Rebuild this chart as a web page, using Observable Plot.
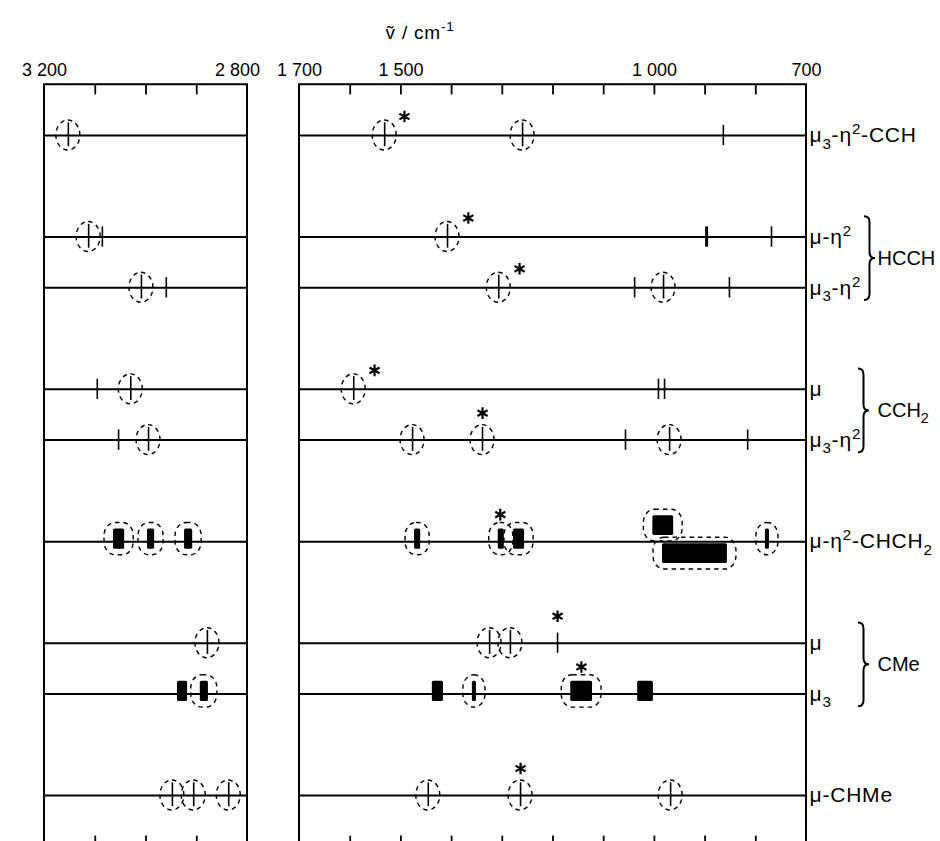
<!DOCTYPE html>
<html><head><meta charset="utf-8">
<script src="https://cdn.jsdelivr.net/npm/d3@7"></script>
<script src="https://cdn.jsdelivr.net/npm/@observablehq/plot@0.6"></script>
<style>body{margin:0;background:#fff} svg{display:block}</style>
</head><body><div id="chart"></div>
<script>
// ---- data (wavenumbers in cm^-1, rows as slot indices) ----
const panels = [{from: 3200, to: 2800}, {from: 1700, to: 700}];
const axisTicks = [3100, 3000, 2900, 1600, 1500, 1400, 1300, 1200, 1100, 1000, 900, 800];
const tickLabels = [3200, 1700, 1500, 1000, 700];
const shiftedLabels = [2800];
const title = "ṽ / cm⁻¹";

const rows = [
  {k: 0, label: "μ₃-η²-CCH"},
  {k: 2, label: "μ-η²"},
  {k: 3, label: "μ₃-η²"},
  {k: 5, label: "μ"},
  {k: 6, label: "μ₃-η²"},
  {k: 8, label: "μ-η²-CHCH₂"},
  {k: 10, label: "μ"},
  {k: 11, label: "μ₃"},
  {k: 13, label: "μ-CHMe"}
];
const groups = [
  {name: "HCCH", k1: 2, k2: 3},
  {name: "CCH₂", k1: 5, k2: 6},
  {name: "CMe", k1: 10, k2: 11}
];
const plainTicks = [
  {k: 0, nu: 864},
  {k: 2, nu: 3086}, {k: 2, nu: 769},
  {k: 3, nu: 2960}, {k: 3, nu: 1039}, {k: 3, nu: 852},
  {k: 5, nu: 3096}, {k: 5, nu: 992}, {k: 5, nu: 980},
  {k: 6, nu: 3054}, {k: 6, nu: 1057}, {k: 6, nu: 816},
  {k: 10, nu: 1191}
];
const strongTicks = [{k: 2, nu: 897}];
const circledTicks = [
  {k: 0, nu: 3153}, {k: 0, nu: 1532}, {k: 0, nu: 1260},
  {k: 2, nu: 3113}, {k: 2, nu: 1408},
  {k: 3, nu: 3009}, {k: 3, nu: 1307}, {k: 3, nu: 982},
  {k: 5, nu: 3030}, {k: 5, nu: 1593},
  {k: 6, nu: 2995}, {k: 6, nu: 1477}, {k: 6, nu: 1339}, {k: 6, nu: 970},
  {k: 10, nu: 2879}, {k: 10, nu: 1325}, {k: 10, nu: 1284},
  {k: 13, nu: 2948}, {k: 13, nu: 2906}, {k: 13, nu: 2837}, {k: 13, nu: 1446}, {k: 13, nu: 1264}, {k: 13, nu: 968}
];
const bands = [
  {k: 8, nu1: 3064, nu2: 3042, pos: "on", circled: true},
  {k: 8, nu1: 2997, nu2: 2983, pos: "on", circled: true},
  {k: 8, nu1: 2924, nu2: 2908, pos: "on", circled: true},
  {k: 8, nu1: 1473, nu2: 1461, pos: "on", circled: true},
  {k: 8, nu1: 1308, nu2: 1296, pos: "on", circled: true},
  {k: 8, nu1: 1278, nu2: 1256, pos: "on", circled: true},
  {k: 8, nu1: 1003, nu2: 962, pos: "above", circled: true},
  {k: 8, nu1: 984, nu2: 856, pos: "below", circled: true},
  {k: 8, nu1: 781, nu2: 773, pos: "on", circled: true},
  {k: 11, nu1: 2938, nu2: 2918, pos: "on", circled: false},
  {k: 11, nu1: 2893, nu2: 2877, pos: "on", circled: true},
  {k: 11, nu1: 1438, nu2: 1416, pos: "on", circled: false},
  {k: 11, nu1: 1359, nu2: 1351, pos: "on", circled: true},
  {k: 11, nu1: 1165, nu2: 1122, pos: "on", circled: true},
  {k: 11, nu1: 1033, nu2: 1002, pos: "on", circled: false}
];
const starsBeside = [{k: 0, nu: 1493}, {k: 2, nu: 1367}, {k: 3, nu: 1266}, {k: 5, nu: 1552}];
const starsAbove = [{k: 6, nu: 1339}, {k: 8, nu: 1304}, {k: 10, nu: 1191}, {k: 11, nu: 1144}, {k: 13, nu: 1264}];

// ---- derived ----
const yTop = rows[0].k - 1;
const yBot = rows[rows.length - 1].k + 1;
const rowLines = rows.flatMap(r => panels.map(p => ({k: r.k, from: p.from, to: p.to})));
const fmt = n => n >= 1000 ? `${Math.floor(n / 1000)} ${String(n % 1000).padStart(3, "0")}` : String(n);
const bandY1 = d => d.pos === "above" ? d.k - 0.51 : d.pos === "below" ? d.k + 0.04 : d.k - 0.25;
const bandY2 = d => d.pos === "above" ? d.k - 0.12 : d.pos === "below" ? d.k + 0.43 : d.k + 0.15;
const dashed = {fill: "none", stroke: "black", strokeWidth: 1.4, strokeDasharray: "4.5,4"};
const font = "Liberation Sans, Arial, sans-serif";
const braceTop = d => d.k1 - 0.4, braceBot = d => d.k2 + 0.25;

function braces(index, scales) {
  const ns = "http://www.w3.org/2000/svg";
  const g = document.createElementNS(ns, "g");
  for (const d of groups) {
    const x0 = scales.x(700) + (d.name === "HCCH" ? 58 : 52), w = 11, c = 6;
    const y1 = scales.y(braceTop(d)), y2 = scales.y(braceBot(d)), m = (y1 + y2) / 2, xm = x0 + w / 2;
    const p = document.createElementNS(ns, "path");
    p.setAttribute("d", `M${x0},${y1}Q${xm},${y1} ${xm},${y1 + c}L${xm},${m - c}Q${xm},${m} ${x0 + w},${m}Q${xm},${m} ${xm},${m + c}L${xm},${y2 - c}Q${xm},${y2} ${x0},${y2}`);
    p.setAttribute("fill", "none");
    p.setAttribute("stroke", "black");
    p.setAttribute("stroke-width", "2");
    g.appendChild(p);
  }
  return g;
}

const chart = Plot.plot({
  width: 940, height: 841, margin: 0,
  style: {fontFamily: font, background: "white", color: "black"},
  x: {type: "linear", domain: [3200, 2800, 1700, 700], range: [44, 247, 299, 806], axis: null},
  y: {type: "linear", domain: [0, 13], range: [135, 795], axis: null},
  marks: [
    Plot.rect(panels, {x1: "from", x2: "to", y1: yTop, y2: yBot, fill: "none", stroke: "black", strokeWidth: 2}),
    Plot.ruleX(axisTicks, {x: d => d, y1: yTop, y2: yTop + 0.2, strokeWidth: 1.8}),
    Plot.ruleX(axisTicks, {x: d => d, y1: yBot - 0.2, y2: yBot, strokeWidth: 1.8}),
    Plot.text(tickLabels, {x: d => d, y: yTop, dy: -9, text: d => fmt(d), lineAnchor: "bottom", fontSize: 18}),
    Plot.text(shiftedLabels, {x: d => d, y: yTop, dy: -9, dx: -10, text: d => fmt(d), lineAnchor: "bottom", fontSize: 18}),
    Plot.text([title], {frameAnchor: "top-left", dx: 385, dy: 38, text: d => d, textAnchor: "start", lineAnchor: "bottom", fontSize: 19, className: "spaced"}),
    Plot.ruleY(rowLines, {y: "k", x1: "from", x2: "to", strokeWidth: 2}),
    Plot.ruleX(plainTicks, {x: "nu", y1: d => d.k - 0.2, y2: d => d.k + 0.2, strokeWidth: 1.6}),
    Plot.ruleX(strongTicks, {x: "nu", y1: d => d.k - 0.2, y2: d => d.k + 0.2, strokeWidth: 3}),
    Plot.ruleX(circledTicks, {x: "nu", y1: d => d.k - 0.25, y2: d => d.k + 0.22, strokeWidth: 1.6}),
    Plot.rect(circledTicks, {x1: "nu", x2: "nu", y1: "k", y2: "k", insetLeft: -12, insetRight: -12, insetTop: -15, insetBottom: -15, rx: 12, ry: 15, ...dashed}),
    Plot.rect(bands, {x1: "nu1", x2: "nu2", y1: bandY1, y2: bandY2, fill: "black", rx: 1.5}),
    Plot.rect(bands.filter(d => d.circled), {x1: "nu1", x2: "nu2", y1: bandY1, y2: bandY2, insetLeft: -9, insetRight: -9, insetTop: -6, insetBottom: -6, rx: 11, ry: 13, ...dashed}),
    Plot.dot(starsBeside, {x: "nu", y: "k", dy: -19, symbol: "asterisk", r: 5.5, stroke: "black", strokeWidth: 2.2}),
    Plot.dot(starsAbove, {x: "nu", y: "k", dy: -27, symbol: "asterisk", r: 5.5, stroke: "black", strokeWidth: 2.2}),
    Plot.text(rows, {x: 700, y: "k", text: "label", textAnchor: "start", dx: 3, fontSize: 21, className: "spaced"}),
    Plot.text(groups, {x: 700, y: d => (braceTop(d) + braceBot(d)) / 2, text: "name", textAnchor: "start", dx: 71, fontSize: 20}),
    braces
  ]
});

// Render Unicode sub/superscript characters as real shifted tspans
const SUB = "₀₁₂₃₄₅₆₇₈₉", SUP = "⁰¹²³⁴⁵⁶⁷⁸⁹⁻";
const SUPPLAIN = "0123456789-";
function kindOf(ch) { return SUB.includes(ch) ? "sub" : SUP.includes(ch) ? "sup" : "normal"; }
function plain(ch) { const i = SUB.indexOf(ch); if (i >= 0) return String(i); const j = SUP.indexOf(ch); return j >= 0 ? SUPPLAIN[j] : ch; }
document.getElementById("chart").appendChild(chart);
const ns = "http://www.w3.org/2000/svg";
for (const t of chart.querySelectorAll("text")) {
  const s = t.textContent;
  if (![...s].some(ch => kindOf(ch) !== "normal")) continue;
  const fs = parseFloat(getComputedStyle(t).fontSize) || 20;
  const runs = [];
  for (const ch of s) {
    const k = kindOf(ch);
    if (runs.length && runs[runs.length - 1].k === k) runs[runs.length - 1].s += plain(ch);
    else runs.push({k, s: plain(ch)});
  }
  while (t.firstChild) t.removeChild(t.firstChild);
  let shift = 0;
  for (const r of runs) {
    const ts = document.createElementNS(ns, "tspan");
    const target = r.k === "sub" ? 0.3 * fs : r.k === "sup" ? -0.38 * fs : 0;
    if (target !== shift) { ts.setAttribute("dy", String(target - shift)); shift = target; }
    if (r.k !== "normal") ts.setAttribute("font-size", String(0.72 * fs));
    ts.textContent = r.s;
    t.appendChild(ts);
  }
}
for (const t of chart.querySelectorAll(".spaced text, text.spaced")) t.setAttribute("letter-spacing", "0.8");
</script>
</body></html>
